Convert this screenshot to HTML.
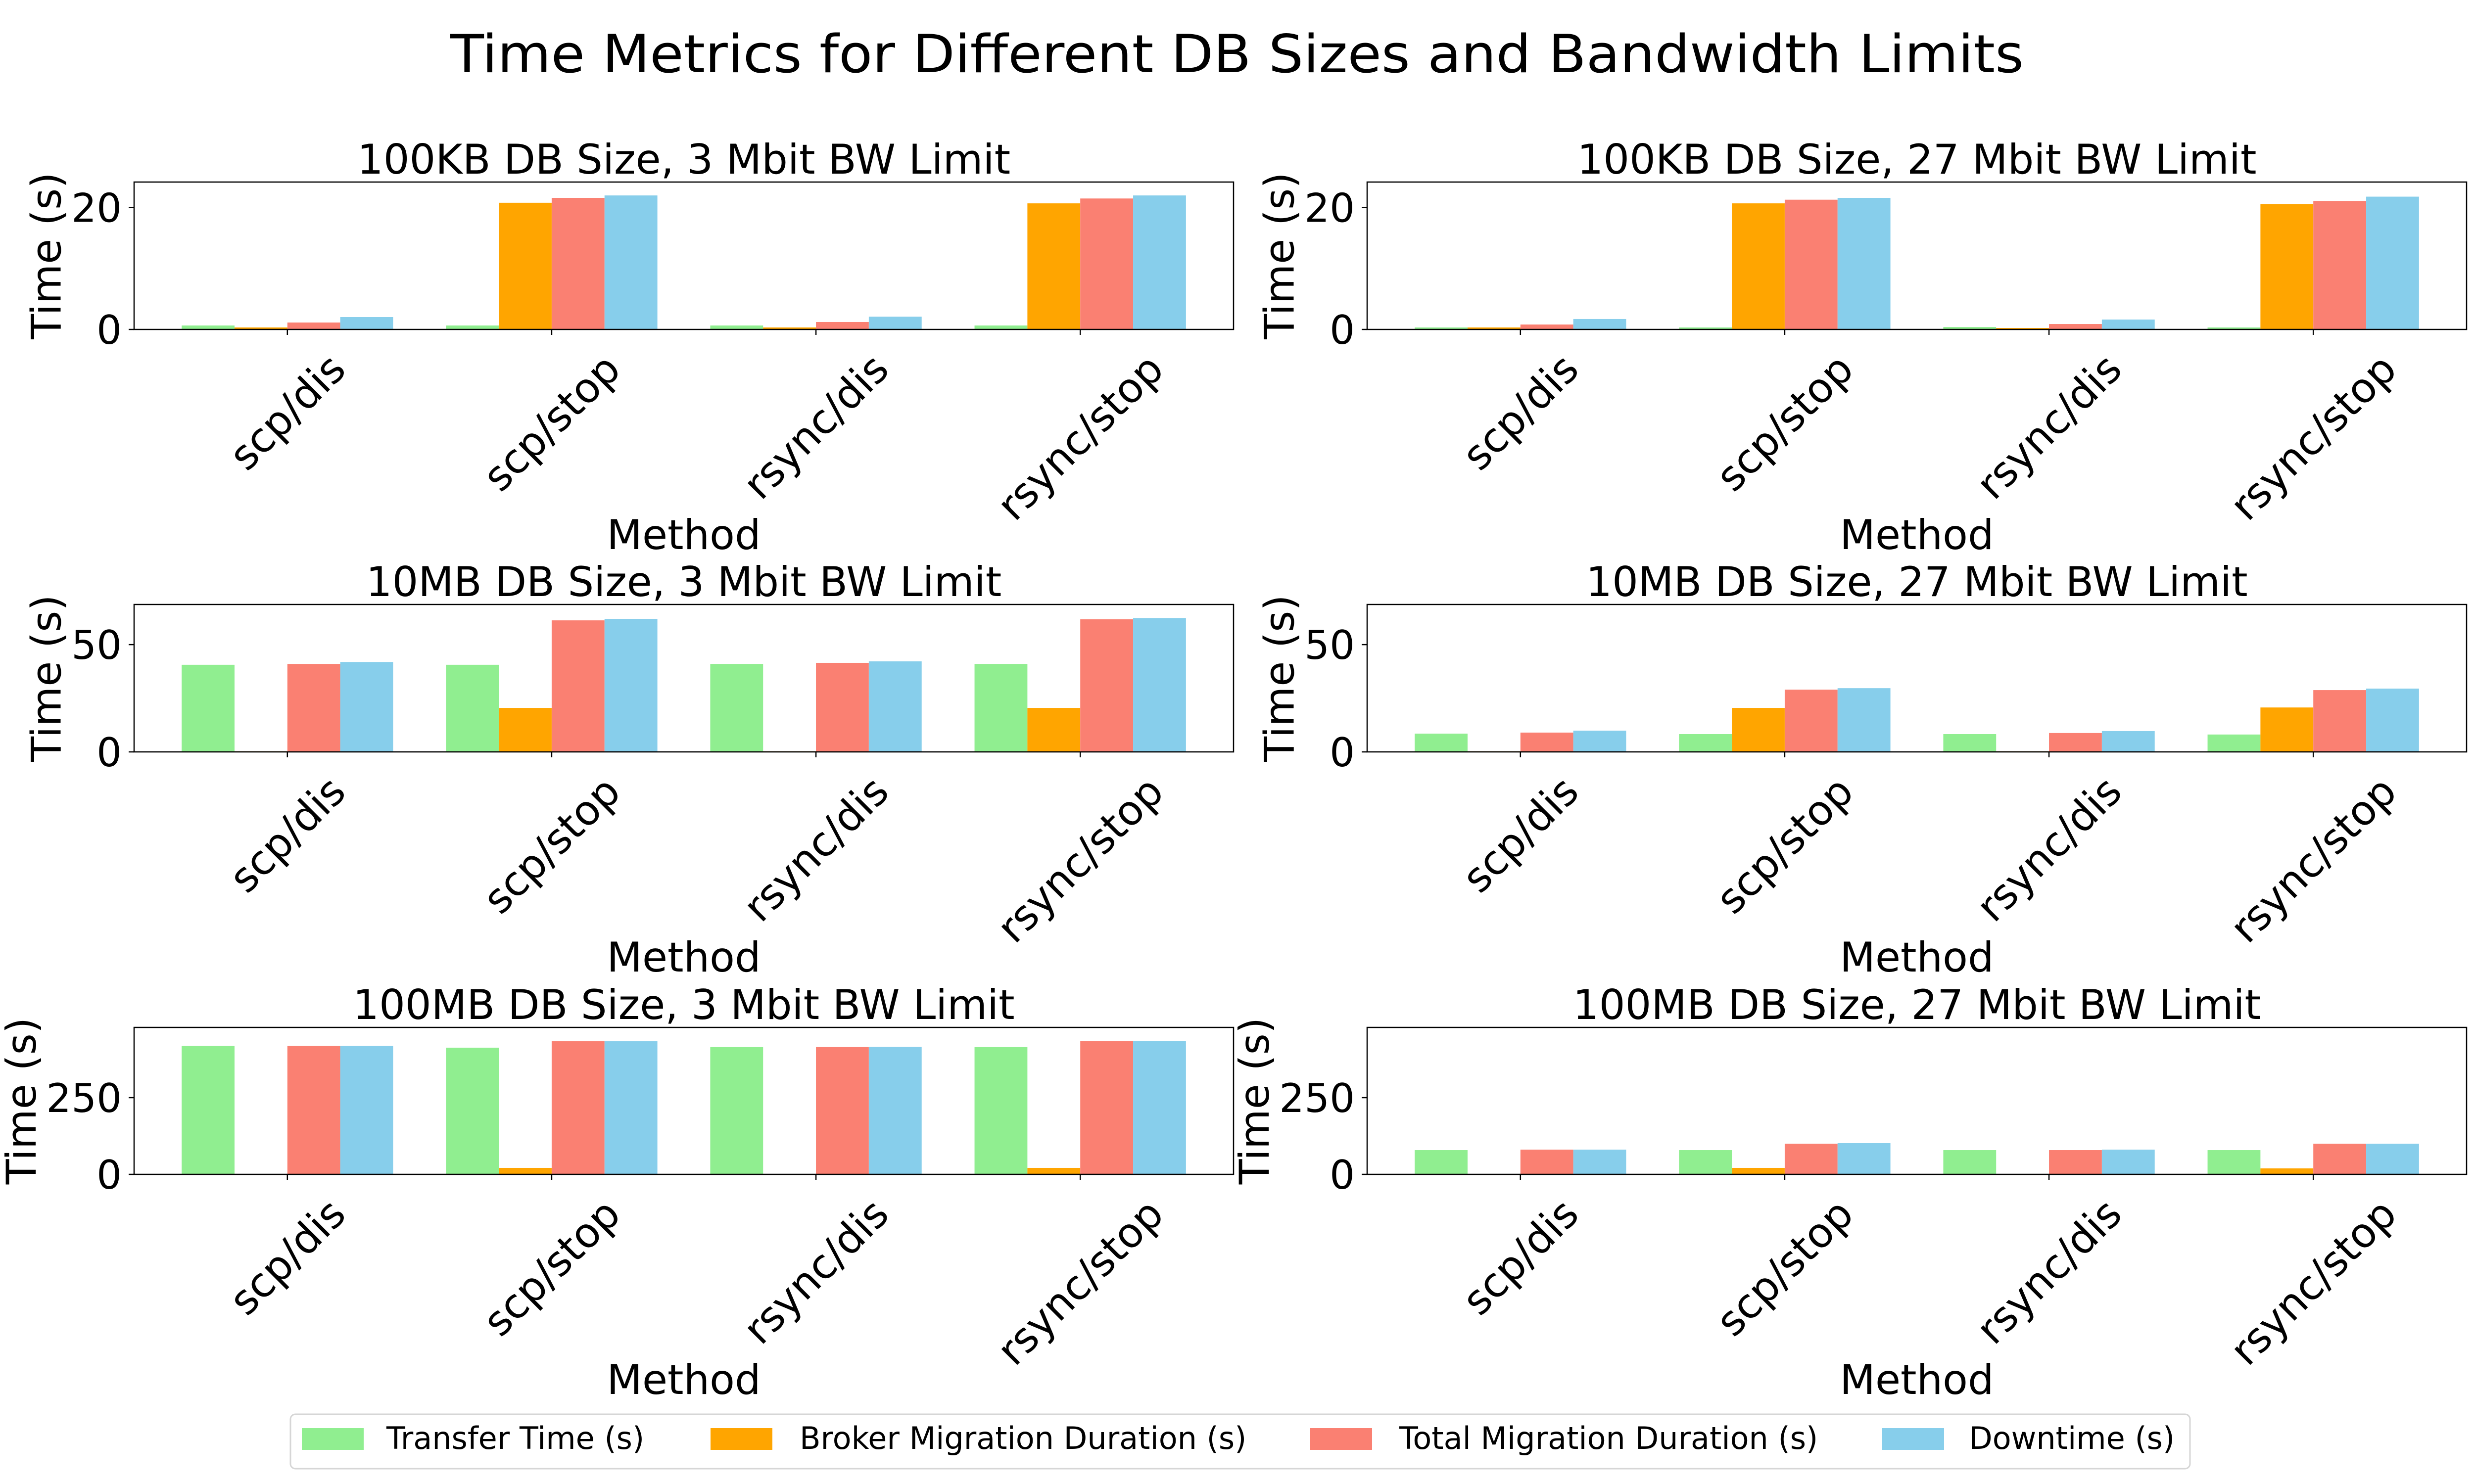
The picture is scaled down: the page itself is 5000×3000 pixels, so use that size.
<!DOCTYPE html>
<html><head><meta charset="utf-8"><style>
html,body{margin:0;padding:0;background:#fff;}
svg{display:block;font-family:"DejaVu Sans","Liberation Sans",sans-serif;}
</style></head><body>
<svg id="chart" width="5000" height="3000" viewBox="0 0 5000 3000" xmlns="http://www.w3.org/2000/svg">
<rect width="5000" height="3000" fill="#fff"/>
<text x="2500" y="146" font-size="106" text-anchor="middle" textLength="3180" lengthAdjust="spacingAndGlyphs">Time Metrics for Different DB Sizes and Bandwidth Limits</text>
<g id="panels"></g>
<g>
<rect x="587" y="2859" width="3839" height="110" rx="10" fill="#fff" stroke="#d6d6d6" stroke-width="3"/>
<g><rect x="610" y="2887" width="125" height="44" fill="#90EE90"/><text x="781" y="2929" font-size="62">Transfer Time (s)</text></g>
<g><rect x="1436" y="2887" width="125" height="44" fill="#FFA500"/><text x="1616" y="2929" font-size="62">Broker Migration Duration (s)</text></g>
<g><rect x="2648" y="2887" width="125" height="44" fill="#FA8072"/><text x="2828" y="2929" font-size="62">Total Migration Duration (s)</text></g>
<g><rect x="3804" y="2887" width="125" height="44" fill="#87CEEB"/><text x="3979" y="2929" font-size="62">Downtime (s)</text></g>
</g>
</svg>
<script>
const categories = ["scp/dis","scp/stop","rsync/dis","rsync/stop"];
const seriesNames = ["Transfer Time (s)","Broker Migration Duration (s)","Total Migration Duration (s)","Downtime (s)"];
const seriesColors = ["#90EE90","#FFA500","#FA8072","#87CEEB"];
const panelTitles = ["100KB DB Size, 3 Mbit BW Limit","100KB DB Size, 27 Mbit BW Limit","10MB DB Size, 3 Mbit BW Limit","10MB DB Size, 27 Mbit BW Limit","100MB DB Size, 3 Mbit BW Limit","100MB DB Size, 27 Mbit BW Limit"];
const rowYMax = [24.2, 68.7, 479];
const rowYTicks = [[0,20],[0,50],[0,250]];
const p1Transfer = [0.65,0.65,0.65,0.65];
const p1Broker = [0.33,20.8,0.33,20.7];
const p1Total = [1.14,21.6,1.22,21.5];
const p1Down = [2.03,22.0,2.1,22.0];
const p2Transfer = [0.33,0.33,0.4,0.33];
const p2Broker = [0.33,20.7,0.24,20.6];
const p2Total = [0.81,21.3,0.89,21.1];
const p2Down = [1.71,21.6,1.63,21.8];
const p3Transfer = [40.6,40.6,41.0,41.0];
const p3Broker = [0.3,20.5,0.3,20.5];
const p3Total = [41.0,61.3,41.5,61.8];
const p3Down = [41.9,62.0,42.2,62.4];
const p4Transfer = [8.5,8.3,8.3,8.1];
const p4Broker = [0.3,20.5,0.3,20.7];
const p4Total = [9.0,29.0,8.8,28.8];
const p4Down = [9.9,29.7,9.7,29.5];
const p5Transfer = [419,413,415,415];
const p5Broker = [0,21,0,21];
const p5Total = [419,434,415,435];
const p5Down = [419,434,416,435];
const p6Transfer = [79,79,79,79];
const p6Broker = [0,21,0,19.4];
const p6Total = [80.6,100,79,100];
const p6Down = [80.6,101.6,80.6,100];

const panelData = [
  [p1Transfer,p1Broker,p1Total,p1Down],
  [p2Transfer,p2Broker,p2Total,p2Down],
  [p3Transfer,p3Broker,p3Total,p3Down],
  [p4Transfer,p4Broker,p4Total,p4Down],
  [p5Transfer,p5Broker,p5Total,p5Down],
  [p6Transfer,p6Broker,p6Total,p6Down]
];

const NS = "http://www.w3.org/2000/svg";
const colX = [[271,2493],[2763,4985]];
const rowY = [[368,666],[1222,1520],[2077,2374]];
const XMIN = -0.58, XMAX = 3.58, BW = 0.2;
const FS = 83, YFS = 80;
const root = document.getElementById('panels');

function mk(tag, attrs, parent){
  const e = document.createElementNS(NS, tag);
  for (const k in attrs) e.setAttribute(k, attrs[k]);
  parent.appendChild(e);
  return e;
}

for (let p = 0; p < 6; p++) {
  const r = Math.floor(p/2), c = p % 2;
  const [x0,x1] = colX[c], [y0,y1] = rowY[r];
  const xs = u => x0 + (u - XMIN) / (XMAX - XMIN) * (x1 - x0);
  const ys = v => y1 - v / rowYMax[r] * (y1 - y0);
  const g = mk('g', {}, root);
  
  

  const t = mk('text', {x:(x0+x1)/2, y:y0-17, 'font-size':FS, 'text-anchor':'middle'}, g);
  
  
  t.textContent = panelTitles[p];

  const data = panelData[p];
  for (let s = 0; s < 4; s++) {
    for (let i = 0; i < categories.length; i++) {
      const v = data[s][i];
      const left = xs(i - 0.4 + s*BW), right = xs(i - 0.4 + (s+1)*BW);
      const b = mk('rect', {x:left, y:ys(v), width:right-left, height:Math.max(0, y1-ys(v)), fill:seriesColors[s]}, g);
      
      
    }
  }

  const fr = mk('rect', {x:x0, y:y0, width:x1-x0, height:y1-y0, fill:'none', stroke:'#000', 'stroke-width':2.5}, g);
  
  

  let maxW = 0;
  for (const tv of rowYTicks[r]) {
    const yy = ys(tv);
    mk('line', {x1:x0-11, x2:x0, y1:yy, y2:yy, stroke:'#000', 'stroke-width':2.5}, g);
    const tl = mk('text', {x:x0-25, y:yy+29, 'font-size':YFS, 'text-anchor':'end'}, g);
    
    
    tl.textContent = String(tv);
    maxW = Math.max(maxW, tl.getComputedTextLength());
  }
  const yl = mk('text', {'font-size':FS, 'text-anchor':'middle', 'dominant-baseline':'central'}, g);
  
  
  yl.textContent = 'Time (s)';
  const ylx = x0 - 25 - maxW - 50, yly = (y0+y1)/2;
  yl.setAttribute('transform', 'translate(' + ylx + ',' + yly + ') rotate(-90)');

  for (let i = 0; i < categories.length; i++) {
    const xx = xs(i);
    mk('line', {x1:xx, x2:xx, y1:y1, y2:y1+11, stroke:'#000', 'stroke-width':2.5}, g);
    const tl = mk('text', {'font-size':FS, 'text-anchor':'middle', 'dominant-baseline':'central'}, g);
    
    
    tl.textContent = categories[i];
    const L = tl.getComputedTextLength(), h = FS*1.16;
    const bh = (L + h) / Math.SQRT2;
    tl.setAttribute('transform', 'translate(' + xx + ',' + (y1 + 31 + bh/2) + ') rotate(-45)');
  }
  const xl = mk('text', {x:(x0+x1)/2, y:y1+444, 'font-size':FS, 'text-anchor':'middle'}, g);
  
  
  xl.textContent = 'Method';
}
</script>
</body></html>
